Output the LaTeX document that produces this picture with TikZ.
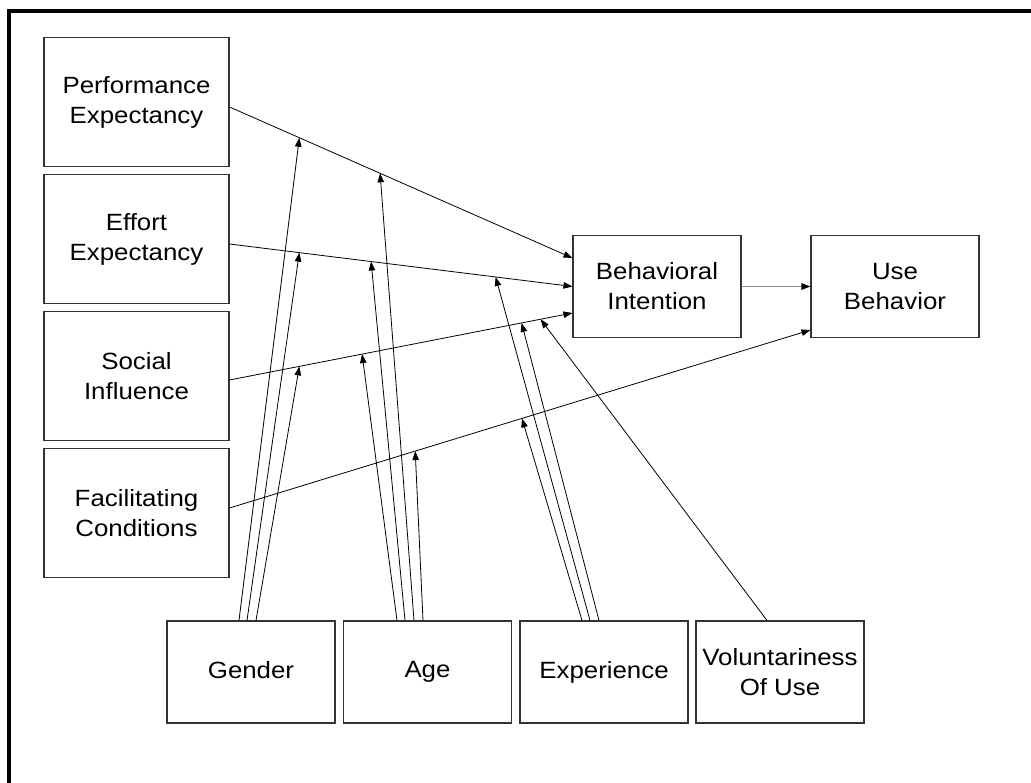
\documentclass[tikz,border=0pt]{standalone}
\usepackage{fontspec}
\setmainfont[FakeStretch=1.1]{Liberation Sans}
\usetikzlibrary{arrows.meta,calc}
\begin{document}
\begin{tikzpicture}[x=1pt,y=-1pt,
  box/.style={draw=black!80,line width=1.1pt,minimum width=168pt,minimum height=102pt,inner sep=0pt,align=center,font=\fontsize{23.5}{30}\selectfont},
  lbox/.style={box,minimum width=185pt,minimum height=129pt},
  arr/.style={-{Triangle[length=9pt,width=6.5pt]},line width=0.8pt},
  garr/.style={-{Triangle[length=9pt,width=6.5pt,color=black]},draw=black!45,line width=1.6pt}]
\useasboundingbox (0,0) rectangle (1031,783);
\draw[line width=4.5pt] (9,783) -- (9,11) -- (1031,11);

\node[lbox] (pe) at (136.5,102) {Performance\\Expectancy};
\node[lbox] (ee) at (136.5,239) {Effort\\Expectancy};
\node[lbox] (si) at (136.5,376) {Social\\Influence};
\node[lbox] (fc) at (136.5,513) {Facilitating\\Conditions};
\node[box] (bi) at (657,286.5) {Behavioral\\Intention};
\node[box] (ub) at (895,286.5) {Use\\Behavior};
\node[box] (gen) at (251,672) {Gender\vphantom{Ag}};
\node[box] (age) at (427.5,672) {Age\vphantom{Ag}};
\node[box] (exp) at (604,672) {Experience\vphantom{Ag}};
\node[box] (vol) at (780,672) {Voluntariness\\Of Use};

\draw[arr] ($(pe.east)+(0,5)$) -- coordinate[pos=0.2035] (pg) coordinate[pos=0.439] (pa) ($(bi.west)+(0,-28.5)$);
\draw[arr] ($(ee.east)+(0,5)$) -- coordinate[pos=0.2035] (eg) coordinate[pos=0.4128] (ea) coordinate[pos=0.776] (ex) ($(bi.west)+(0,0)$);
\draw[arr] ($(si.east)+(0,4)$) -- coordinate[pos=0.2035] (sg) coordinate[pos=0.3866] (sa) coordinate[pos=0.8517] (sx) coordinate[pos=0.907] (sv) ($(bi.west)+(0,26.5)$);
\draw[arr] ($(fc.east)+(0,-5)$) -- coordinate[pos=0.3196] (fa) coordinate[pos=0.5034] (fx) ($(ub.west)+(0,43.5)$);
\draw[garr] (bi) -- (ub);

\draw[arr] ($(gen.north)+(-12,0)$) -- (pg);
\draw[arr] ($(gen.north)+(-4,0)$) -- (eg);
\draw[arr] ($(gen.north)+(5,0)$) -- (sg);

\draw[arr] ($(age.north)+(-30.5,0)$) -- (sa);
\draw[arr] ($(age.north)+(-22.5,0)$) -- (ea);
\draw[arr] ($(age.north)+(-13.5,0)$) -- (pa);
\draw[arr] ($(age.north)+(-4.5,0)$) -- (fa);

\draw[arr] ($(exp.north)+(-22,0)$) -- (fx);
\draw[arr] ($(exp.north)+(-14,0)$) -- (ex);
\draw[arr] ($(exp.north)+(-5,0)$) -- (sx);

\draw[arr] ($(vol.north)+(-13,0)$) -- (sv);
\end{tikzpicture}
\end{document}
